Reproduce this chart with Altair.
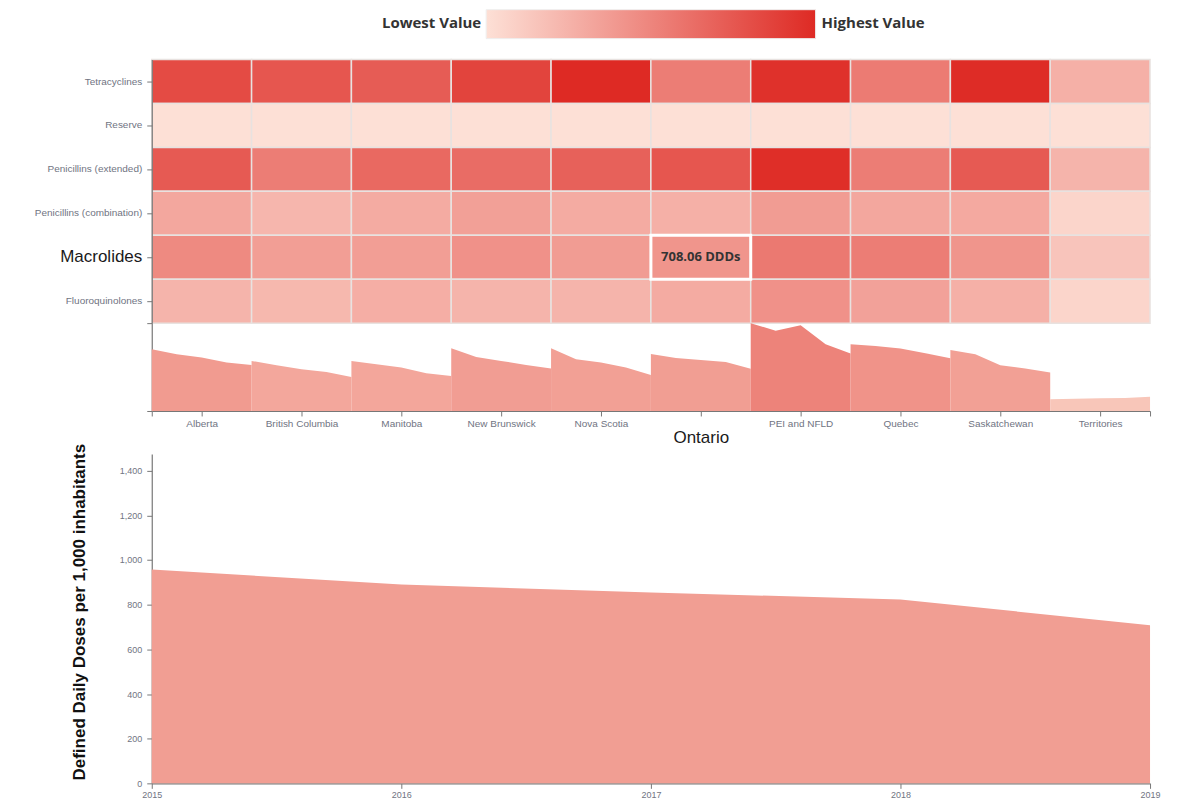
import json
import altair as alt
import pandas as pd

# ---------------- data ----------------
provinces = ["Alberta", "British Columbia", "Manitoba", "New Brunswick", "Nova Scotia",
             "Ontario", "PEI and NFLD", "Quebec", "Saskatchewan", "Territories"]
classes = ["Tetracyclines", "Reserve", "Penicillins (extended)",
           "Penicillins (combination)", "Macrolides", "Fluoroquinolones"]
years = [2015, 2016, 2017, 2018, 2019]

# heatmap values (one list per antibiotic class, in province order)
tetracyclines = [82, 76, 73, 86, 100, 55, 96, 56, 99, 27]
reserve = [1, 1, 1, 1, 1, 1, 1, 1, 1, 1]
penicillins_extended = [74, 55, 66, 64, 70, 76, 98, 55, 74, 25]
penicillins_combination = [32, 24, 30, 36, 30, 27, 38, 32, 31, 7]
macrolides = [48, 37, 37, 44, 38, 42, 57, 55, 42, 16]
fluoroquinolones = [25, 23, 28, 25, 25, 30, 44, 35, 27, 7]
heat_rows = [tetracyclines, reserve, penicillins_extended,
             penicillins_combination, macrolides, fluoroquinolones]

# Defined Daily Doses per 1,000 inhabitants, 2015-2019
alberta = [1038, 953, 897, 813, 774]
british_columbia = [841, 768, 701, 656, 572]
manitoba = [841, 785, 729, 634, 589]
new_brunswick = [1055, 908, 841, 774, 712]
nova_scotia = [1055, 869, 813, 729, 606]
ontario = [957, 890, 855, 823, 708.06]
pei_nfld = [1475, 1346, 1441, 1122, 964]
quebec = [1122, 1093, 1048, 970, 886]
saskatchewan = [1026, 953, 768, 712, 645]
territories = [197, 207, 213, 219, 241]
series = [alberta, british_columbia, manitoba, new_brunswick, nova_scotia,
          ontario, pei_nfld, quebec, saskatchewan, territories]

selected_province = "Ontario"
selected_class = "Macrolides"
tooltip_value = ontario[-1]

low_color, high_color = "#fde0d6", "#de2a24"
area_low, area_high = "#f8c6b9", "#ed837a"

# ---------------- tables ----------------
heat_df = pd.DataFrame([
    {"cls": c, "province": p, "value": row[j]}
    for c, row in zip(classes, heat_rows) for j, p in enumerate(provinces)
])
spark_df = pd.DataFrame([
    {"province": p, "year": y, "value": vals[k], "pos": i + k / (len(years) - 1)}
    for i, (p, vals) in enumerate(zip(provinces, series)) for k, y in enumerate(years)
])
spark_df["avg"] = spark_df.groupby("province")["value"].transform("mean")
tip_df = pd.DataFrame({"province": [selected_province], "cls": [selected_class],
                       "label": [f"{tooltip_value:.2f} DDDs"]})

vmax = float(spark_df["value"].max())
amin, amax = float(spark_df["avg"].min()), float(spark_df["avg"].max())
hmin, hmax = float(heat_df["value"].min()), float(heat_df["value"].max())
n = len(provinces)

W = 1000
label_color = "#707482"
axis_color = "#777777"

# ---------------- legend ----------------
one = alt.Data(values=[{}])
grad = alt.Chart(one).mark_rect(
    color=alt.Gradient(gradient="linear",
                       stops=[alt.GradientStop(color=low_color, offset=0),
                              alt.GradientStop(color=high_color, offset=1)],
                       x1=0, x2=1, y1=0, y2=0),
    stroke="#eeeeee", strokeWidth=1,
).encode(x=alt.value(335), x2=alt.value(665), y=alt.value(0), y2=alt.value(29))
lo_txt = alt.Chart(one).mark_text(align="right", baseline="middle", font="Open Sans",
                                  fontWeight="bold", fontSize=15, color="#333333").encode(
    x=alt.value(330), y=alt.value(13), text=alt.value("Lowest Value"))
hi_txt = alt.Chart(one).mark_text(align="left", baseline="middle", font="Open Sans",
                                  fontWeight="bold", fontSize=15, color="#333333").encode(
    x=alt.value(671), y=alt.value(13), text=alt.value("Highest Value"))
legend = alt.layer(grad, lo_txt, hi_txt).properties(width=W, height=50)

# ---------------- heatmap ----------------
xband = alt.X("province:N", sort=provinces, axis=None,
              scale=alt.Scale(paddingInner=0, paddingOuter=0))
yband = alt.Y("cls:N", sort=classes, title=None,
              scale=alt.Scale(paddingInner=0, paddingOuter=0),
              axis=alt.Axis(
                  labelFontSize={"condition": {"test": f"datum.value == '{selected_class}'", "value": 17}, "value": 10},
                  labelColor={"condition": {"test": f"datum.value == '{selected_class}'", "value": "#1a1a1a"}, "value": label_color},
                  labelPadding=5, tickSize=5, domainColor=axis_color, tickColor=axis_color))
heat = alt.Chart(heat_df).mark_rect(stroke="#e8e2e0", strokeWidth=1.5).encode(
    x=xband, y=yband,
    color=alt.Color("value:Q", scale=alt.Scale(domain=[hmin, hmax], range=[low_color, high_color],
                                               interpolate="rgb"),
                    legend=None),
)
box = alt.Chart(tip_df).mark_rect(fillOpacity=0, stroke="white", strokeWidth=3).encode(
    x=xband, y=yband)
tip = alt.Chart(tip_df).mark_text(font="Open Sans", fontWeight="bold", fontSize=13,
                                  color="#333333").encode(x=xband, y=yband, text="label:N")
heatmap = alt.layer(heat, box, tip).properties(width=W, height=264)

# ---------------- province sparkline ----------------
tick_vals = [0] + [i + 0.5 for i in range(n)] + [n]
label_expr = ("datum.value % 1 == 0 ? '' : " + json.dumps(provinces) + "[floor(datum.value)]")
sel_idx = provinces.index(selected_province) + 0.5
area_scale = alt.Scale(domain=[amin, amax], range=[area_low, area_high], interpolate="rgb")
spark = alt.Chart(spark_df).mark_area(interpolate="linear").encode(
    x=alt.X("pos:Q", title=None, scale=alt.Scale(domain=[0, n], nice=False, zero=False),
            axis=alt.Axis(values=tick_vals, labelExpr=label_expr, grid=False, labelOverlap=False,
                          labelFlush=False, tickSize=5, domainColor=axis_color, tickColor=axis_color,
                          labelFontSize={"condition": {"test": f"datum.value == {sel_idx}", "value": 17}, "value": 10},
                          labelColor={"condition": {"test": f"datum.value == {sel_idx}", "value": "#1a1a1a"}, "value": label_color},
                          labelPadding={"condition": {"test": f"datum.value == {sel_idx}", "value": 14}, "value": 3})),
    y=alt.Y("value:Q", title=None, stack=None, scale=alt.Scale(domain=[0, vmax], nice=False),
            axis=alt.Axis(values=[0, vmax], labels=False, grid=False, tickSize=5,
                          domainColor=axis_color, tickColor=axis_color)),
    color=alt.Color("avg:Q", scale=area_scale, legend=None),
    detail="province:N",
).properties(width=W, height=88)

spacer = alt.Chart(one).mark_point(opacity=0).encode(
    x=alt.value(0), y=alt.value(0)).properties(width=W, height=43)

# ---------------- selected province detail ----------------
bottom = alt.Chart(spark_df).transform_filter(
    alt.datum.province == selected_province
).mark_area(interpolate="linear").encode(
    x=alt.X("year:Q", title=None, scale=alt.Scale(domain=[years[0], years[-1]], nice=False, zero=False),
            axis=alt.Axis(values=years, format="d", grid=False, labelFlush=False, tickSize=5,
                          labelFontSize=9, labelColor=label_color,
                          domainColor=axis_color, tickColor=axis_color)),
    y=alt.Y("value:Q", stack=None, scale=alt.Scale(domain=[0, vmax], nice=False),
            axis=alt.Axis(values=list(range(0, 1401, 200)), format=",.0f", grid=False, tickSize=5,
                          labelFontSize=9, labelColor=label_color, labelPadding=5,
                          domainColor=axis_color, tickColor=axis_color,
                          title="Defined Daily Doses per 1,000 inhabitants",
                          titleFontSize=17, titleFontWeight="bold", titleColor="#111111",
                          titlePadding=31, titleY=158)),
    color=alt.Color("avg:Q", scale=area_scale, legend=None),
).properties(width=W, height=330)

chart = alt.vconcat(legend, heatmap, spark, spacer, bottom, spacing=0, bounds="flush").resolve_scale(
    color="independent"
).configure_view(stroke=None).configure_axis(
    labelFont="Liberation Sans", titleFont="Liberation Sans", domainWidth=1.2
).properties(padding={"left": 26, "top": 0, "right": 10, "bottom": 0})

chart.save("out.html", embed_options={"renderer": "svg", "actions": False})
